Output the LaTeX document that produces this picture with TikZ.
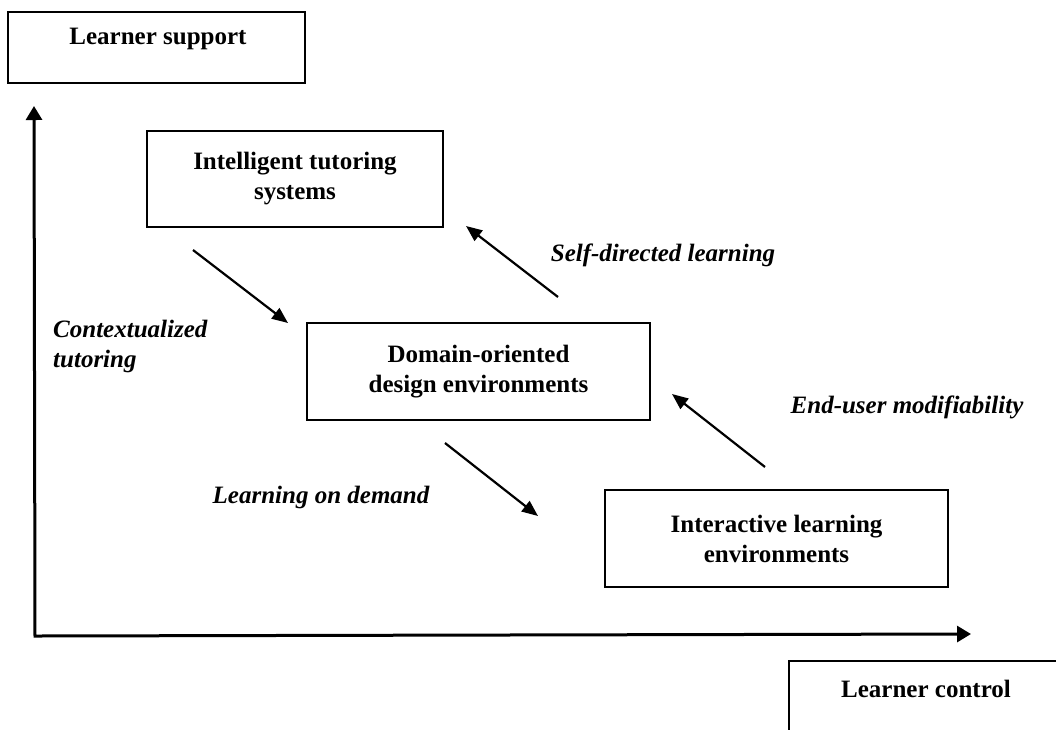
\documentclass[tikz,border=0pt]{standalone}
\usepackage{fontspec}
\setmainfont{Liberation Serif}
\usetikzlibrary{arrows.meta}
\begin{document}
\begin{tikzpicture}[x=1pt,y=-1pt,
  box/.style={draw, line width=1.8pt, inner sep=0pt},
  boxtext/.style={font=\fontsize{25}{30}\selectfont\bfseries, align=center},
  lab/.style={font=\fontsize{25}{30}\selectfont\bfseries\itshape, inner sep=0pt},
  axis/.style={line width=3pt, line join=miter, {Triangle[length=14pt,width=16pt]}-{Triangle[length=14pt,width=16pt]}},
  flow/.style={line width=2.2pt, -{Triangle[length=16pt,width=13pt]}}]
\useasboundingbox (0,0) rectangle (1056,729);
\clip (0,0) rectangle (1056,729);
% axis boxes
\node[box, minimum width=297pt, minimum height=71pt] (lsbox) at (156.5,47.5) {};
\node[boxtext] (ls) at (158,39) {Learner support};
\node[box, minimum width=300pt, minimum height=100pt, anchor=north west] (lcbox) at (788,660) {};
\node[boxtext] (lc) at (926,689) {Learner control};
% main boxes
\node[box, boxtext, minimum width=296pt, minimum height=96pt] (its) at (295,179) {Intelligent tutoring\\systems};
\node[box, boxtext, minimum width=343pt, minimum height=97pt] (dom) at (478.5,371.5) {Domain-oriented\\design environments};
\node[box, boxtext, minimum width=343pt, minimum height=97pt] (ile) at (776.5,538.5) {Interactive learning\\environments};
% axes
\coordinate (ytip) at (34,106);
\coordinate (origin) at (35,636);
\coordinate (xtip) at (971,634);
\draw[axis] (ytip) -- (origin) -- (xtip);
% flow arrows
\coordinate (a1s) at (193,250); \coordinate (a1e) at (288,323);
\coordinate (a2s) at (558,297); \coordinate (a2e) at (466,226);
\coordinate (a3s) at (765,467); \coordinate (a3e) at (672,394);
\coordinate (a4s) at (445,443); \coordinate (a4e) at (538,516);
\draw[flow] (a1s) -- (a1e);
\draw[flow] (a2s) -- (a2e);
\draw[flow] (a3s) -- (a3e);
\draw[flow] (a4s) -- (a4e);
% labels
\node[lab] (sdl) at (663,255) {Self-directed learning};
\node[lab, anchor=west, align=left] (ct) at (53,346) {Contextualized\\tutoring};
\node[lab] (eum) at (907,407) {End-user modifiability};
\node[lab] (lod) at (321,497) {Learning on demand};
\end{tikzpicture}
\end{document}
